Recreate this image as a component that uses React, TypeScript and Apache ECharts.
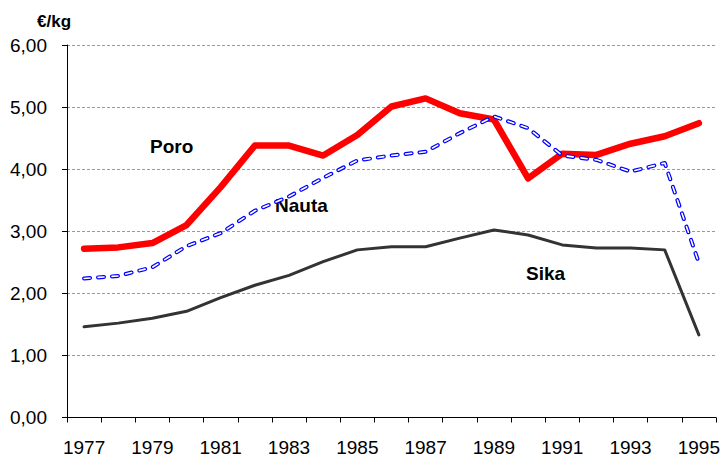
import React, { useEffect, useRef } from "react";
import * as echarts from "echarts";

const years = ["1977","1978","1979","1980","1981","1982","1983","1984","1985","1986","1987","1988","1989","1990","1991","1992","1993","1994","1995"];
const poro = [2.72, 2.74, 2.81, 3.10, 3.71, 4.38, 4.38, 4.22, 4.55, 5.01, 5.14, 4.90, 4.80, 3.85, 4.25, 4.23, 4.41, 4.53, 4.74];
const nauta = [2.24, 2.28, 2.42, 2.76, 2.97, 3.33, 3.56, 3.86, 4.14, 4.22, 4.28, 4.58, 4.85, 4.66, 4.22, 4.15, 3.96, 4.10, 2.49];
const sika = [1.46, 1.52, 1.60, 1.71, 1.93, 2.13, 2.29, 2.51, 2.70, 2.75, 2.75, 2.89, 3.02, 2.94, 2.78, 2.73, 2.73, 2.70, 1.33];
const seriesNames = ["Poro", "Nauta", "Sika"];
const unitLabel = "€/kg";

const FONT = "'Liberation Sans', Arial, sans-serif";

export default function App() {
  const ref = useRef<HTMLDivElement>(null);
  useEffect(() => {
    if (!ref.current) return;
    const chart = echarts.init(ref.current, null, { renderer: "svg" });
    chart.setOption({
      animation: false,
      backgroundColor: "#ffffff",
      textStyle: { fontFamily: FONT },
      grid: { left: 67, right: 7, top: 45, bottom: 41.5, containLabel: false },
      xAxis: {
        type: "category",
        data: years,
        boundaryGap: true,
        axisLine: { lineStyle: { color: "#000", width: 1 } },
        axisTick: { show: true, interval: 0, length: 5, lineStyle: { color: "#000" } },
        axisLabel: { interval: 1, color: "#000", fontSize: 19, margin: 20, fontFamily: FONT, hideOverlap: false },
        splitLine: { show: false },
      },
      yAxis: {
        type: "value",
        min: 0,
        max: 6,
        interval: 1,
        axisLine: { show: true, lineStyle: { color: "#000", width: 1 } },
        axisTick: { show: true, length: 5, lineStyle: { color: "#000" } },
        axisLabel: {
          color: "#000",
          fontSize: 19,
          margin: 20,
          fontFamily: FONT,
          formatter: (v: number) => v.toFixed(2).replace(".", ","),
        },
        splitLine: { show: true, lineStyle: { color: "#9a9a9a", width: 1, type: [3, 2] } },
      },
      series: [
        {
          name: seriesNames[0],
          type: "line",
          data: poro,
          symbol: "none",
          lineStyle: { color: "#ff0000", width: 6.5, cap: "round", join: "round" },
          z: 2,
        },
        {
          name: seriesNames[2],
          type: "line",
          data: sika,
          symbol: "none",
          lineStyle: { color: "#333333", width: 3, cap: "round", join: "round" },
          z: 2,
        },
        {
          name: seriesNames[1],
          type: "line",
          data: nauta,
          symbol: "none",
          lineStyle: { color: "#0000ff", width: 4, type: [6, 8], cap: "round", join: "round" },
          z: 3,
        },
        {
          name: seriesNames[1] + " ",
          type: "line",
          data: nauta,
          symbol: "none",
          lineStyle: { color: "#ffffff", width: 1.6, type: [6, 8], cap: "round", join: "round" },
          z: 4,
        },
      ],
      graphic: [
        { type: "text", left: 37, top: 13, style: { text: unitLabel, font: `bold 17px ${FONT}`, fill: "#000" } },
        { type: "text", left: 150, top: 137, style: { text: seriesNames[0], font: `bold 19px ${FONT}`, fill: "#000" } },
        { type: "text", left: 275, top: 196, style: { text: seriesNames[1], font: `bold 19px ${FONT}`, fill: "#000" } },
        { type: "text", left: 526, top: 264, style: { text: seriesNames[2], font: `bold 19px ${FONT}`, fill: "#000" } },
      ],
    });
    return () => chart.dispose();
  }, []);
  return (
    <div
      ref={ref}
      style={{ position: "fixed", left: 0, top: 0, width: 723, height: 459, background: "#fff" }}
    />
  );
}
